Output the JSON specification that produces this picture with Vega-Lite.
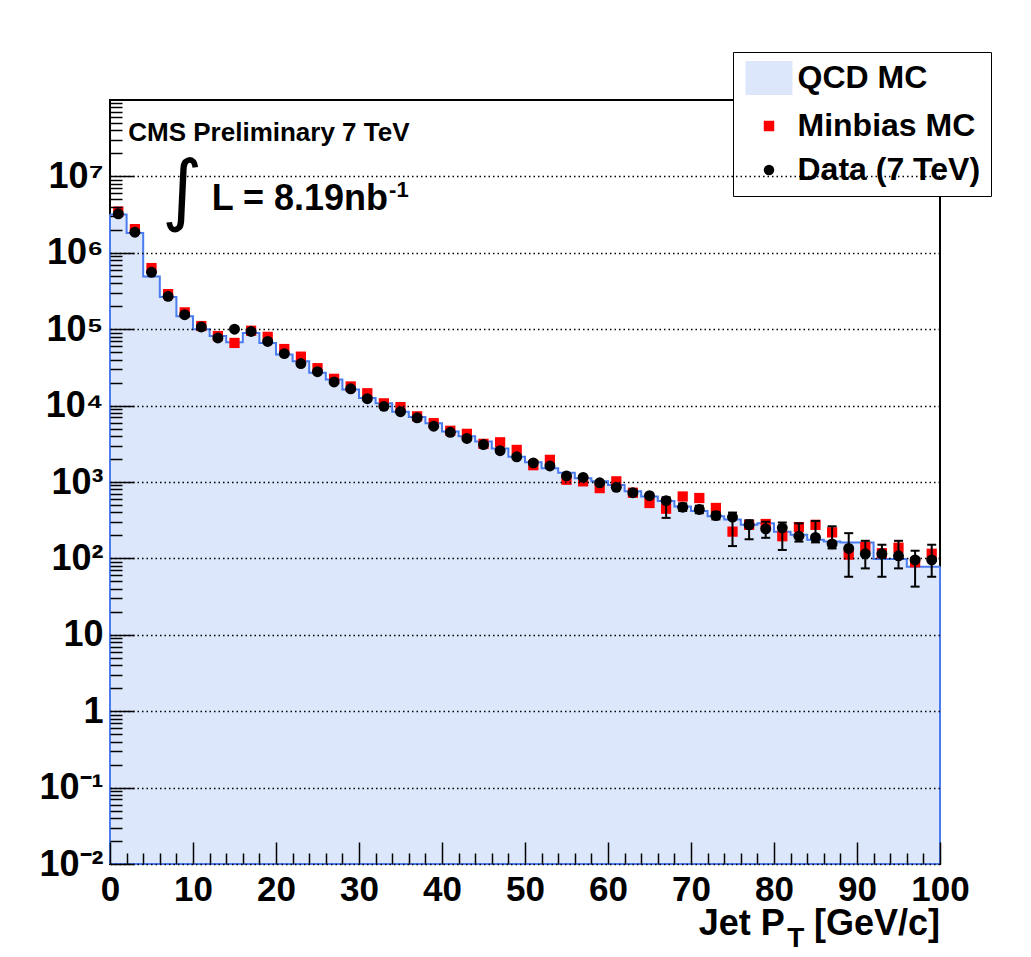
{
  "$schema": "https://vega.github.io/schema/vega-lite/v6.json",
  "width": 830,
  "height": 764,
  "autosize": {"type": "none"},
  "padding": {"left": 110, "top": 100, "right": 91, "bottom": 93},
  "background": "white",
  "config": {
    "view": {"stroke": "black", "strokeWidth": 2},
    "font": "Liberation Sans",
    "legend": {
      "title": null, "orient": "none", "legendX": 623, "legendY": -48,
      "padding": 10, "rowPadding": 12, "symbolOffset": 10, "labelOffset": 12.5,
      "symbolSize": 110, "symbolOpacity": 1, "labelLimit": 0,
      "symbolStrokeColor": "black", "symbolStrokeWidth": 1.5,
      "strokeColor": "black", "fillColor": "white",
      "labelFont": "Liberation Sans", "labelFontWeight": "bold", "labelFontSize": 32,
      "labelColor": "black", "labelBaseline": "middle"
    }
  },
  "resolve": {"axis": {"x": "independent", "y": "independent"}},
  "datasets": {
    "bins": [
      {"lo": 0, "hi": 2, "pt": 1, "qcd": 3160000, "minbias": 3470000, "data": 3240000},
      {"lo": 2, "hi": 4, "pt": 3, "qcd": 1820000, "minbias": 2040000, "data": 1860000},
      {"lo": 4, "hi": 6, "pt": 5, "qcd": 490000, "minbias": 631000, "data": 555000},
      {"lo": 6, "hi": 8, "pt": 7, "qcd": 263000, "minbias": 288000, "data": 269000},
      {"lo": 8, "hi": 10, "pt": 9, "qcd": 148000, "minbias": 166000, "data": 155000},
      {"lo": 10, "hi": 12, "pt": 11, "qcd": 100000, "minbias": 110000, "data": 107000},
      {"lo": 12, "hi": 14, "pt": 13, "qcd": 81300, "minbias": 81300, "data": 76700},
      {"lo": 14, "hi": 16, "pt": 15, "qcd": 67600, "minbias": 66100, "data": 100000},
      {"lo": 16, "hi": 18, "pt": 17, "qcd": 89100, "minbias": 95500, "data": 93300},
      {"lo": 18, "hi": 20, "pt": 19, "qcd": 66100, "minbias": 79400, "data": 69200},
      {"lo": 20, "hi": 22, "pt": 21, "qcd": 46800, "minbias": 55000, "data": 47900},
      {"lo": 22, "hi": 24, "pt": 23, "qcd": 38000, "minbias": 43700, "data": 35500},
      {"lo": 24, "hi": 26, "pt": 25, "qcd": 26900, "minbias": 30900, "data": 27800},
      {"lo": 26, "hi": 28, "pt": 27, "qcd": 21900, "minbias": 22400, "data": 20400},
      {"lo": 28, "hi": 30, "pt": 29, "qcd": 16200, "minbias": 17800, "data": 16600},
      {"lo": 30, "hi": 32, "pt": 31, "qcd": 12600, "minbias": 14500, "data": 12300},
      {"lo": 32, "hi": 34, "pt": 33, "qcd": 10700, "minbias": 10700, "data": 9770},
      {"lo": 34, "hi": 36, "pt": 35, "qcd": 8320, "minbias": 9550, "data": 8320},
      {"lo": 36, "hi": 38, "pt": 37, "qcd": 7080, "minbias": 7240, "data": 6920},
      {"lo": 38, "hi": 40, "pt": 39, "qcd": 5890, "minbias": 5890, "data": 5370},
      {"lo": 40, "hi": 42, "pt": 41, "qcd": 4570, "minbias": 4680, "data": 4470},
      {"lo": 42, "hi": 44, "pt": 43, "qcd": 3980, "minbias": 4270, "data": 3720},
      {"lo": 44, "hi": 46, "pt": 45, "qcd": 3390, "minbias": 3160, "data": 3090},
      {"lo": 46, "hi": 48, "pt": 47, "qcd": 2750, "minbias": 3310, "data": 2570},
      {"lo": 48, "hi": 50, "pt": 49, "qcd": 2140, "minbias": 2630, "data": 2140},
      {"lo": 50, "hi": 52, "pt": 51, "qcd": 1820, "minbias": 1660, "data": 1780},
      {"lo": 52, "hi": 54, "pt": 53, "qcd": 1510, "minbias": 1950, "data": 1620},
      {"lo": 54, "hi": 56, "pt": 55, "qcd": 1320, "minbias": 1070, "data": 1200},
      {"lo": 56, "hi": 58, "pt": 57, "qcd": 1120, "minbias": 1020, "data": 1150},
      {"lo": 58, "hi": 60, "pt": 59, "qcd": 1020, "minbias": 832, "data": 977},
      {"lo": 60, "hi": 62, "pt": 61, "qcd": 912, "minbias": 1020, "data": 851},
      {"lo": 62, "hi": 64, "pt": 63, "qcd": 759, "minbias": 724, "data": 724},
      {"lo": 64, "hi": 66, "pt": 65, "qcd": 646, "minbias": 531, "data": 661},
      {"lo": 66, "hi": 68, "pt": 67, "qcd": 562, "minbias": 447, "data": 569, "dlo": 339, "dhi": 631},
      {"lo": 68, "hi": 70, "pt": 69, "qcd": 479, "minbias": 646, "data": 468, "dlo": 417, "dhi": 525},
      {"lo": 70, "hi": 72, "pt": 71, "qcd": 417, "minbias": 617, "data": 437, "dlo": 390, "dhi": 490},
      {"lo": 72, "hi": 74, "pt": 73, "qcd": 355, "minbias": 457, "data": 363, "dlo": 324, "dhi": 407},
      {"lo": 74, "hi": 76, "pt": 75, "qcd": 324, "minbias": 224, "data": 347, "dlo": 145, "dhi": 398},
      {"lo": 76, "hi": 78, "pt": 77, "qcd": 275, "minbias": 275, "data": 275, "dlo": 178, "dhi": 316},
      {"lo": 78, "hi": 80, "pt": 79, "qcd": 288, "minbias": 282, "data": 243, "dlo": 186, "dhi": 302},
      {"lo": 80, "hi": 82, "pt": 81, "qcd": 224, "minbias": 195, "data": 251, "dlo": 129, "dhi": 295},
      {"lo": 82, "hi": 84, "pt": 83, "qcd": 204, "minbias": 257, "data": 195, "dlo": 166, "dhi": 288},
      {"lo": 84, "hi": 86, "pt": 85, "qcd": 176, "minbias": 275, "data": 188, "dlo": 162, "dhi": 309},
      {"lo": 86, "hi": 88, "pt": 87, "qcd": 166, "minbias": 219, "data": 155, "dlo": 135, "dhi": 263},
      {"lo": 88, "hi": 90, "pt": 89, "qcd": 162, "minbias": 112, "data": 135, "dlo": 57.5, "dhi": 214},
      {"lo": 90, "hi": 92, "pt": 91, "qcd": 162, "minbias": 141, "data": 115, "dlo": 74, "dhi": 170},
      {"lo": 92, "hi": 94, "pt": 93, "qcd": 98, "minbias": 117, "data": 115, "dlo": 57.5, "dhi": 151},
      {"lo": 94, "hi": 96, "pt": 95, "qcd": 98, "minbias": 138, "data": 108, "dlo": 74, "dhi": 170},
      {"lo": 96, "hi": 98, "pt": 97, "qcd": 78, "minbias": 89, "data": 95.5, "dlo": 42.7, "dhi": 126},
      {"lo": 98, "hi": 100, "pt": 99, "qcd": 78, "minbias": 115, "data": 95.5, "dlo": 57.5, "dhi": 151}
    ]
  },
  "data": {"name": "bins"},
  "layer": [
    {
      "mark": {"type": "rect", "stroke": "#dce7fc", "strokeWidth": 1},
      "encoding": {
        "x": {
          "field": "lo", "type": "quantitative", "title": null,
          "scale": {"domain": [0, 100], "nice": false, "zero": false},
          "axis": {
            "orient": "bottom",
            "values": [0, 10, 20, 30, 40, 50, 60, 70, 80, 90, 100],
            "offset": -22, "tickSize": 22, "tickColor": "black", "tickWidth": 1.5,
            "domain": false, "grid": false, "zindex": 1,
            "labelFont": "Liberation Sans", "labelFontWeight": "bold", "labelFontSize": 35,
            "labelColor": "black", "labelPadding": 8, "labelBaseline": "top",
            "labelFlush": false, "labelBound": false, "title": null
          }
        },
        "x2": {"field": "hi"},
        "y": {
          "field": "qcd", "type": "quantitative", "title": null,
          "scale": {"type": "log", "domain": [0.01, 100000000], "nice": false},
          "axis": {
            "orient": "left",
            "values": [0.01, 0.1, 1, 10, 100, 1000, 10000, 100000, 1000000, 10000000],
            "labelExpr": "datum.value == 1 ? '1' : datum.value == 10 ? '10' : '10' + ['⁻²','⁻¹','','','²','³','⁴','⁵','⁶','⁷'][indexof([0.01,0.1,1,10,100,1000,10000,100000,1000000,10000000], datum.value)]",
            "offset": -24, "tickSize": 24, "tickColor": "black", "tickWidth": 1.5,
            "domain": false, "grid": true, "zindex": 1,
            "gridColor": "black", "gridDash": [1.5, 3], "gridWidth": 1.3,
            "labelFont": "Liberation Sans", "labelFontWeight": "bold", "labelFontSize": 36,
            "labelColor": "black", "labelPadding": 7, "labelBaseline": "middle",
            "labelFlush": false, "labelBound": false, "title": null
          }
        },
        "y2": {"datum": 0.01},
        "color": {
          "datum": "QCD MC", "type": "nominal",
          "scale": {"domain": ["QCD MC", "Minbias MC", "Data (7 TeV)"], "range": ["#dce7fc", "#ff0000", "#000000"]}
        }
      }
    },
    {
      "transform": [{"filter": "datum.lo == 0"}],
      "mark": {"type": "rule", "color": "#4a7cf0", "strokeWidth": 2},
      "encoding": {
        "x": {
          "field": "lo", "type": "quantitative", "title": null,
          "axis": {
            "orient": "bottom",
            "values": [2, 4, 6, 8, 12, 14, 16, 18, 22, 24, 26, 28, 32, 34, 36, 38, 42, 44, 46, 48, 52, 54, 56, 58, 62, 64, 66, 68, 72, 74, 76, 78, 82, 84, 86, 88, 92, 94, 96, 98],
            "offset": -11, "tickSize": 11, "tickColor": "black", "tickWidth": 1.5,
            "labels": false, "domain": false, "grid": false, "zindex": 1, "title": null
          }
        },
        "y": {
          "field": "qcd", "type": "quantitative", "title": null,
          "axis": {
            "orient": "left",
            "values": [0.02, 0.03, 0.04, 0.05, 0.06, 0.07, 0.08, 0.09, 0.2, 0.3, 0.4, 0.5, 0.6, 0.7, 0.8, 0.9, 2, 3, 4, 5, 6, 7, 8, 9, 20, 30, 40, 50, 60, 70, 80, 90, 200, 300, 400, 500, 600, 700, 800, 900, 2000, 3000, 4000, 5000, 6000, 7000, 8000, 9000, 20000, 30000, 40000, 50000, 60000, 70000, 80000, 90000, 200000, 300000, 400000, 500000, 600000, 700000, 800000, 900000, 2000000, 3000000, 4000000, 5000000, 6000000, 7000000, 8000000, 9000000, 20000000, 30000000, 40000000, 50000000, 60000000, 70000000, 80000000, 90000000],
            "offset": -12, "tickSize": 12, "tickColor": "black", "tickWidth": 1.5,
            "labels": false, "domain": false, "grid": false, "zindex": 1, "title": null
          }
        },
        "y2": {"datum": 0.01}
      }
    },
    {
      "transform": [{"filter": "datum.hi == 100"}],
      "mark": {"type": "rule", "color": "#4a7cf0", "strokeWidth": 2},
      "encoding": {
        "x": {"field": "hi", "type": "quantitative", "title": null, "axis": null},
        "y": {"field": "qcd", "type": "quantitative", "title": null, "axis": null},
        "y2": {"datum": 0.01}
      }
    },
    {
      "transform": [{"filter": "datum.lo == 0"}],
      "mark": {"type": "rule", "color": "#4a7cf0", "strokeWidth": 2},
      "encoding": {
        "x": {"datum": 0, "axis": null},
        "x2": {"datum": 100},
        "y": {"datum": 0.01, "axis": null}
      }
    },
    {
      "transform": [{"fold": ["lo", "hi"], "as": ["edge", "xpos"]}],
      "mark": {"type": "line", "color": "#4a7cf0", "strokeWidth": 2},
      "encoding": {
        "x": {"field": "xpos", "type": "quantitative", "title": null, "axis": null},
        "y": {"field": "qcd", "type": "quantitative", "title": null, "axis": null},
        "order": [{"field": "xpos", "type": "quantitative"}, {"field": "edge", "type": "ordinal"}]
      }
    },
    {
      "mark": {"type": "point", "size": 105, "opacity": 1, "filled": true},
      "encoding": {
        "x": {"field": "pt", "type": "quantitative", "title": null, "axis": null},
        "y": {"field": "minbias", "type": "quantitative", "title": null, "axis": null},
        "color": {"datum": "Minbias MC", "type": "nominal"},
        "shape": {
          "datum": "Minbias MC", "type": "nominal",
          "scale": {"domain": ["QCD MC", "Minbias MC", "Data (7 TeV)"], "range": ["M-4.48,-3.24H4.48V3.24H-4.48Z", "square", "circle"]}
        }
      }
    },
    {
      "transform": [{"filter": "isValid(datum.dlo)"}],
      "mark": {"type": "rule", "color": "black", "strokeWidth": 2},
      "encoding": {
        "x": {"field": "pt", "type": "quantitative", "title": null, "axis": null},
        "y": {"field": "dlo", "type": "quantitative", "title": null, "axis": null},
        "y2": {"field": "dhi"}
      }
    },
    {
      "transform": [{"filter": "isValid(datum.dlo)"}],
      "mark": {"type": "tick", "orient": "horizontal", "color": "black", "size": 9, "thickness": 2, "opacity": 1},
      "encoding": {
        "x": {"field": "pt", "type": "quantitative", "title": null, "axis": null},
        "y": {"field": "dlo", "type": "quantitative", "title": null, "axis": null}
      }
    },
    {
      "transform": [{"filter": "isValid(datum.dhi)"}],
      "mark": {"type": "tick", "orient": "horizontal", "color": "black", "size": 9, "thickness": 2, "opacity": 1},
      "encoding": {
        "x": {"field": "pt", "type": "quantitative", "title": null, "axis": null},
        "y": {"field": "dhi", "type": "quantitative", "title": null, "axis": null}
      }
    },
    {
      "mark": {"type": "point", "size": 120, "opacity": 1, "filled": true},
      "encoding": {
        "x": {"field": "pt", "type": "quantitative", "title": null, "axis": null},
        "y": {"field": "data", "type": "quantitative", "title": null, "axis": null},
        "color": {"datum": "Data (7 TeV)", "type": "nominal"},
        "shape": {"datum": "Data (7 TeV)", "type": "nominal"}
      }
    },
    {
      "transform": [{"filter": "datum.lo == 0"}],
      "mark": {"type": "text", "text": "CMS Preliminary 7 TeV", "font": "Liberation Sans", "fontWeight": "bold", "fontSize": 26, "align": "left", "baseline": "alphabetic", "color": "black"},
      "encoding": {"x": {"datum": 2.2, "axis": null}, "y": {"datum": 28700000, "axis": null}}
    },
    {
      "transform": [{"filter": "datum.lo == 0"}],
      "mark": {"type": "text", "text": "∫", "font": "DejaVu Sans", "fontSize": 78, "align": "center", "baseline": "middle", "color": "black"},
      "encoding": {"x": {"datum": 8.7, "axis": null}, "y": {"datum": 6000000, "axis": null}}
    },
    {
      "transform": [{"filter": "datum.lo == 0"}],
      "mark": {"type": "text", "text": "L = 8.19nb", "font": "Liberation Sans", "fontWeight": "bold", "fontSize": 36, "align": "right", "baseline": "alphabetic", "color": "black"},
      "encoding": {"x": {"datum": 33.5, "axis": null}, "y": {"datum": 3660000, "axis": null}}
    },
    {
      "transform": [{"filter": "datum.lo == 0"}],
      "mark": {"type": "text", "text": "-1", "font": "Liberation Sans", "fontWeight": "bold", "fontSize": 22, "align": "left", "baseline": "alphabetic", "dx": 1, "color": "black"},
      "encoding": {"x": {"datum": 33.5, "axis": null}, "y": {"datum": 5430000, "axis": null}}
    },
    {
      "transform": [{"filter": "datum.lo == 0"}],
      "mark": {"type": "text", "text": "Jet P", "font": "Liberation Sans", "fontWeight": "bold", "fontSize": 36, "align": "right", "baseline": "alphabetic", "dy": 71, "color": "black"},
      "encoding": {"x": {"datum": 81.3, "axis": null}, "y": {"datum": 0.01, "axis": null}}
    },
    {
      "transform": [{"filter": "datum.lo == 0"}],
      "mark": {"type": "text", "text": "T", "font": "Liberation Sans", "fontWeight": "bold", "fontSize": 28, "align": "left", "baseline": "alphabetic", "dy": 83, "color": "black"},
      "encoding": {"x": {"datum": 81.6, "axis": null}, "y": {"datum": 0.01, "axis": null}}
    },
    {
      "transform": [{"filter": "datum.lo == 0"}],
      "mark": {"type": "text", "text": "[GeV/c]", "font": "Liberation Sans", "fontWeight": "bold", "fontSize": 36, "align": "right", "baseline": "alphabetic", "dy": 71, "color": "black"},
      "encoding": {"x": {"datum": 100, "axis": null}, "y": {"datum": 0.01, "axis": null}}
    }
  ]
}
